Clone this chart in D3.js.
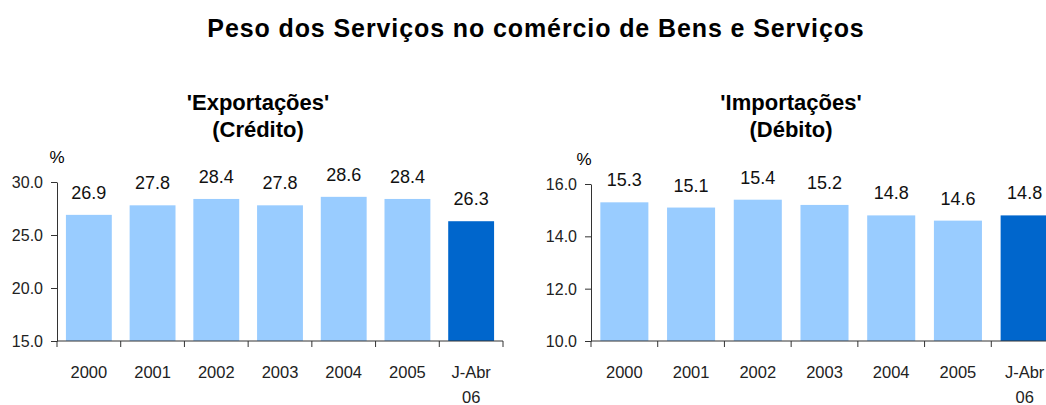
<!DOCTYPE html>
<html>
<head>
<meta charset="utf-8">
<script src="https://cdn.jsdelivr.net/npm/d3@7"></script>
<style>
  body { margin: 0; background: #fff; }
  svg { font-family: Arial, "Liberation Sans", sans-serif; }
</style>
</head>
<body>
<svg width="1046" height="405"></svg>
<script>
// categories shared by both panels
const periods = ['2000', '2001', '2002', '2003', '2004', '2005', 'J-Abr 06']

// services weight in exports (credit), %
const exportValues = [26.9, 27.8, 28.4, 27.8, 28.6, 28.4, 26.3]
// services weight in imports (debit), %
const importValues = [15.3, 15.1, 15.4, 15.2, 14.8, 14.6, 14.8]

const exportTicks = [15, 20, 25, 30]
const importTicks = [10, 12, 14, 16]

const svg = d3.select('svg')

svg.append('text')
    .attr('x', 536)
    .attr('y', 37)
    .attr('text-anchor', 'middle')
    .attr('font-size', '25px')
    .attr('letter-spacing', '0.9px')
    .attr('font-weight', 700)
    .text('Peso dos Serviços no comércio de Bens e Serviços')

function drawPanel(cfg) {
    const g = svg.append('g')

    const x = d3.scaleBand()
        .domain(periods)
        .range([cfg.left, cfg.right])
        .paddingInner(0.28)
        .paddingOuter(0.14)
    const y = d3.scaleLinear()
        .domain(cfg.domain)
        .range([cfg.bottom, cfg.top])

    // titles
    g.append('text')
        .attr('x', cfg.titleX)
        .attr('y', 110)
        .attr('text-anchor', 'middle')
        .attr('font-size', '22px')
        .attr('font-weight', 700)
        .text(cfg.title)
    g.append('text')
        .attr('x', cfg.titleX)
        .attr('y', 137)
        .attr('text-anchor', 'middle')
        .attr('font-size', '22px')
        .attr('font-weight', 700)
        .text(cfg.subtitle)

    g.append('text')
        .attr('x', cfg.pctX)
        .attr('y', cfg.top - 19)
        .attr('text-anchor', 'middle')
        .attr('font-size', '17px')
        .text('%')

    // bars
    g.append('g')
        .selectAll('rect')
        .data(cfg.values)
        .join('rect')
            .attr('x', (d, i) => x(periods[i]))
            .attr('y', d => y(d))
            .attr('width', x.bandwidth())
            .attr('height', d => cfg.bottom - y(d))
            .attr('fill', (d, i) => i === periods.length - 1 ? '#0066CC' : '#99CCFF')

    // value labels
    g.append('g')
        .selectAll('text')
        .data(cfg.values)
        .join('text')
            .attr('x', (d, i) => x(periods[i]) + x.bandwidth() / 2)
            .attr('y', d => y(d) - 16)
            .attr('text-anchor', 'middle')
            .attr('font-size', '18px')
            .attr('fill', '#111')
            .text(d => d.toFixed(1))

    // y axis
    const yAxis = g.append('g')
        .attr('transform', `translate(${cfg.left},0)`)
        .call(d3.axisLeft(y).tickValues(cfg.ticks).tickFormat(d3.format('.1f')).tickSize(6).tickSizeOuter(0))
    yAxis.select('.domain').attr('stroke', '#333')
    yAxis.selectAll('.tick line').attr('stroke', '#333')
    yAxis.selectAll('.tick text')
        .attr('font-size', '16px')
        .attr('font-family', 'Arial, "Liberation Sans", sans-serif')
        .attr('fill', '#222')
        .attr('x', -14)
        .attr('dy', '0.35em')

    // x axis: ticks at band boundaries
    const xg = g.append('g')
    xg.append('line')
        .attr('x1', cfg.left)
        .attr('x2', cfg.right)
        .attr('y1', cfg.bottom)
        .attr('y2', cfg.bottom)
        .attr('stroke', '#333')
    const step = x.step()
    const bounds = d3.range(periods.length + 1).map(i => cfg.left + i * step)
    xg.selectAll('line.tk')
        .data(bounds)
        .join('line')
            .attr('class', 'tk')
            .attr('x1', d => d)
            .attr('x2', d => d)
            .attr('y1', cfg.bottom)
            .attr('y2', cfg.bottom + 6)
            .attr('stroke', '#333')
    xg.selectAll('text')
        .data(periods)
        .join('text')
            .attr('x', d => x(d) + x.bandwidth() / 2)
            .attr('y', cfg.bottom + 37)
            .attr('text-anchor', 'middle')
            .attr('font-size', '16.5px')
            .attr('fill', '#222')
            .each(function(d) {
                const parts = d.split(' ')
                d3.select(this).selectAll('tspan')
                    .data(parts)
                    .join('tspan')
                        .attr('x', x(d) + x.bandwidth() / 2)
                        .attr('dy', (p, j) => j === 0 ? 0 : 25)
                        .text(p => p)
            })
}

drawPanel({
    values: exportValues,
    domain: [15, 30],
    ticks: exportTicks,
    left: 57, right: 503, top: 182, bottom: 341,
    titleX: 258, pctX: 57,
    title: "'Exportações'",
    subtitle: '(Crédito)'
})

drawPanel({
    values: importValues,
    domain: [10, 16],
    ticks: importTicks,
    left: 591, right: 1058, top: 184, bottom: 341,
    titleX: 791, pctX: 584,
    title: "'Importações'",
    subtitle: '(Débito)'
})
</script>
</body>
</html>
